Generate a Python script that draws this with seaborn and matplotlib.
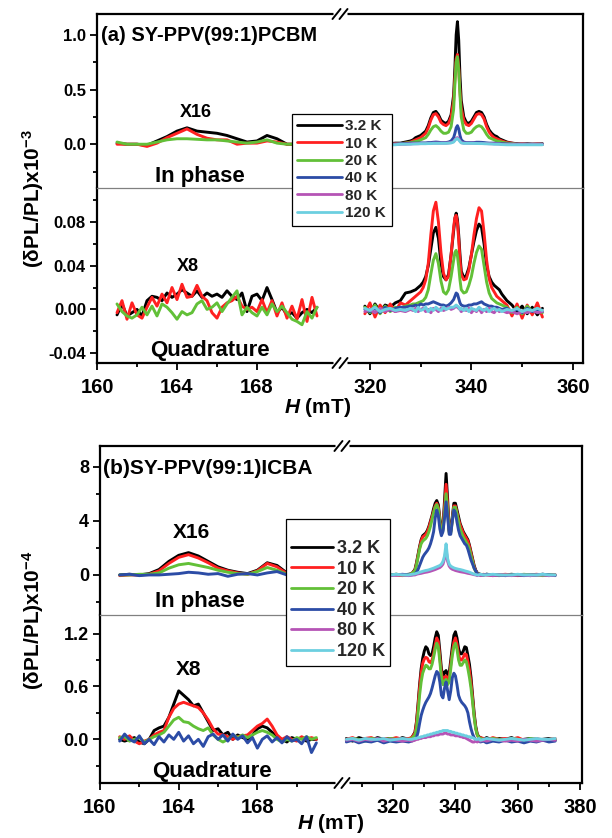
import numpy as np
import pandas as pd
import matplotlib
matplotlib.use("Agg")
import matplotlib.pyplot as plt
import seaborn as sns
from matplotlib.lines import Line2D

# ---------------- data ----------------
TEMPS = ["3.2 K", "10 K", "20 K", "40 K", "80 K", "120 K"]
COLORS = ["#000000", "#ff2020", "#62c038", "#2c4ca6", "#b554b5", "#6ccfe0"]

# field grids (mT)
XL_IP = [161.0, 161.5, 162.0, 162.5, 163.0, 163.5, 164.0, 164.5, 165.0, 165.5, 166.0,
         166.5, 167.0, 167.5, 168.0, 168.5, 169.0, 169.5, 170.0, 170.5, 171.0]
XL_Q = [161.0, 161.25, 161.5, 161.75, 162.0, 162.25, 162.5, 162.75, 163.0, 163.25,
        163.5, 163.75, 164.0, 164.25, 164.5, 164.75, 165.0, 165.25, 165.5, 165.75,
        166.0, 166.25, 166.5, 166.75, 167.0, 167.25, 167.5, 167.75, 168.0, 168.25,
        168.5, 168.75, 169.0, 169.25, 169.5, 169.75, 170.0, 170.25, 170.5, 170.75, 171.0]
XA_R = [319, 320, 321, 322, 323, 324, 325, 326, 327, 328,
        328.5, 329, 329.5, 330, 330.5, 331, 331.5, 332, 332.5, 333,
        333.5, 334, 334.5, 335, 335.5, 336, 336.5, 336.75, 337, 337.25,
        337.5, 337.75, 338, 338.5, 339, 339.5, 340, 340.5, 341, 341.5,
        342, 342.5, 343, 343.5, 344, 344.5, 345, 345.5, 346, 347,
        348, 349, 350, 351, 352, 353, 354]
XB_R = [305, 307, 309, 311, 313, 315, 317, 319, 321, 323,
        325, 326, 327, 327.5, 328, 328.5, 329, 329.5, 330, 330.5,
        331, 331.5, 332, 332.5, 333, 333.5, 334, 334.5, 335, 335.5,
        336, 336.5, 337, 337.5, 338, 338.5, 339, 339.5, 340, 340.5,
        341, 341.5, 342, 342.5, 343, 343.5, 344, 344.5, 345, 345.5,
        346, 346.5, 347, 347.5, 348, 349, 350, 352, 354, 356,
        358, 360, 362, 364, 366, 368, 370, 372]

# ---- panel (a): in phase, low field (x16) ----
A_IP_L_32 = [0.01, 0.0, 0.0, -0.01, 0.03, 0.07, 0.12, 0.15, 0.12, 0.11, 0.10, 0.08, 0.05, 0.02, 0.03, 0.08, 0.05, 0.0, 0.0, 0.0, 0.0]
A_IP_L_10 = [0.0, 0.0, 0.0, -0.02, 0.01, 0.06, 0.10, 0.14, 0.09, 0.055, 0.04, 0.04, 0.0, 0.01, 0.01, 0.03, 0.02, 0.0, 0.0, 0.0, 0.0]
A_IP_L_20 = [0.02, 0.0, 0.0, 0.0, 0.02, 0.04, 0.05, 0.05, 0.045, 0.04, 0.04, 0.03, 0.02, 0.01, 0.02, 0.04, 0.01, 0.0, 0.0, 0.0, 0.0]

# ---- panel (a): in phase, high field ----
A_IP_R_32 = [0.0, 0.005, 0.0, 0.005, 0.0, 0.005, 0.01, 0.01, 0.02, 0.03,
             0.04, 0.06, 0.07, 0.08, 0.10, 0.12, 0.17, 0.24, 0.29, 0.30,
             0.27, 0.22, 0.20, 0.19, 0.21, 0.27, 0.45, 0.70, 1.00, 1.12,
             0.95, 0.62, 0.40, 0.25, 0.20, 0.19, 0.21, 0.25, 0.29, 0.30,
             0.29, 0.25, 0.18, 0.13, 0.10, 0.08, 0.07, 0.05, 0.04, 0.02,
             0.01, 0.005, 0.0, 0.005, 0.0, 0.0, 0.005]
A_IP_R_10 = [0.0, 0.0, 0.005, 0.0, 0.0, 0.0, 0.005, 0.005, 0.01, 0.02,
             0.03, 0.04, 0.05, 0.06, 0.08, 0.10, 0.15, 0.22, 0.27, 0.28,
             0.25, 0.20, 0.18, 0.17, 0.19, 0.25, 0.40, 0.60, 0.78, 0.82,
             0.70, 0.48, 0.33, 0.22, 0.18, 0.17, 0.19, 0.23, 0.27, 0.28,
             0.27, 0.23, 0.16, 0.11, 0.08, 0.06, 0.05, 0.04, 0.03, 0.015,
             0.01, 0.0, 0.005, 0.0, 0.0, 0.005, 0.0]
A_IP_R_20 = [0.0, 0.0, 0.0, 0.0, 0.0, 0.0, 0.0, 0.005, 0.01, 0.015,
             0.02, 0.025, 0.03, 0.04, 0.05, 0.06, 0.09, 0.13, 0.16, 0.17,
             0.15, 0.12, 0.10, 0.10, 0.11, 0.16, 0.32, 0.55, 0.75, 0.80,
             0.68, 0.45, 0.25, 0.13, 0.10, 0.10, 0.11, 0.14, 0.16, 0.17,
             0.16, 0.13, 0.09, 0.06, 0.05, 0.04, 0.03, 0.025, 0.02, 0.01,
             0.005, 0.0, 0.0, 0.0, 0.0, 0.0, 0.0]
A_IP_R_40 = [0.0, 0.0, 0.0, 0.0, 0.0, 0.0, 0.0, 0.005, 0.005, 0.01,
             0.01, 0.01, 0.01, 0.012, 0.012, 0.012, 0.015, 0.015, 0.018, 0.02,
             0.018, 0.015, 0.015, 0.015, 0.02, 0.03, 0.06, 0.10, 0.15, 0.17,
             0.14, 0.08, 0.04, 0.02, 0.015, 0.015, 0.015, 0.015, 0.018, 0.018,
             0.017, 0.015, 0.012, 0.01, 0.01, 0.01, 0.008, 0.006, 0.005, 0.003,
             0.0, 0.0, 0.0, 0.0, 0.0, 0.0, 0.0]
A_IP_R_80 = [0.0, 0.0, 0.0, 0.0, 0.0, 0.0, 0.0, 0.0, 0.0, 0.003,
             0.005, 0.005, 0.005, 0.006, 0.006, 0.006, 0.008, 0.008, 0.01, 0.01,
             0.01, 0.01, 0.01, 0.01, 0.012, 0.015, 0.025, 0.04, 0.055, 0.06,
             0.05, 0.03, 0.015, 0.01, 0.01, 0.01, 0.01, 0.01, 0.008, 0.008,
             0.008, 0.006, 0.006, 0.005, 0.005, 0.004, 0.003, 0.002, 0.0, 0.0,
             0.0, 0.0, 0.0, 0.0, 0.0, 0.0, 0.0]
A_IP_R_120 = [-0.005, -0.005, -0.005, -0.005, -0.005, -0.005, -0.005, 0.0, 0.0, 0.0,
              0.002, 0.003, 0.004, 0.005, 0.005, 0.005, 0.006, 0.006, 0.008, 0.008,
              0.008, 0.008, 0.008, 0.008, 0.01, 0.012, 0.02, 0.035, 0.048, 0.052,
              0.04, 0.025, 0.012, 0.008, 0.008, 0.008, 0.008, 0.007, 0.007, 0.006,
              0.006, 0.005, 0.004, 0.003, 0.002, 0.0, 0.0, 0.0, -0.003, -0.005,
              -0.005, -0.005, -0.005, -0.005, -0.005, -0.005, -0.005]

# ---- panel (a): quadrature, low field (x8) ----
A_Q_L_32 = [-0.005, 0.005, -0.006, -0.003, 0.0, -0.006, 0.008, 0.012, 0.011, 0.008,
            0.015, 0.011, 0.014, 0.018, 0.015, 0.012, 0.017, 0.011, 0.015, 0.012,
            0.014, 0.011, 0.017, 0.012, 0.009, 0.015, -0.002, 0.012, 0.014, 0.008,
            0.020, 0.009, -0.003, 0.002, -0.005, -0.003, -0.008, -0.003, 0.0, -0.003, 0.002]
A_Q_L_10 = [-0.003, 0.008, -0.009, 0.006, -0.005, -0.008, 0.002, 0.011, 0.003, 0.014,
            0.006, 0.020, 0.009, 0.023, 0.011, 0.012, 0.022, 0.012, 0.008, -0.003,
            -0.008, 0.002, 0.006, 0.008, 0.012, 0.003, 0.0, 0.002, -0.002, 0.009,
            -0.003, 0.008, -0.006, 0.006, -0.008, 0.003, -0.009, 0.009, -0.011, 0.011, -0.006]
A_Q_L_20 = [0.005, -0.002, -0.006, -0.008, -0.005, 0.002, -0.005, 0.003, -0.006, 0.005,
            0.002, -0.003, -0.009, -0.002, -0.005, -0.003, 0.005, 0.008, 0.0, 0.002,
            0.006, -0.002, 0.005, 0.011, 0.017, -0.005, 0.002, -0.003, -0.006, 0.002,
            -0.005, 0.005, -0.002, 0.003, -0.003, -0.009, -0.011, -0.014, -0.002, -0.008, 0.002]

# ---- panel (a): quadrature, high field ----
A_Q_R_32 = [0.003, -0.004, 0.005, -0.002, 0.004, 0.002, 0.006, 0.008, 0.015, 0.016,
            0.017, 0.018, 0.02, 0.022, 0.025, 0.03, 0.04, 0.055, 0.07, 0.075,
            0.065, 0.042, 0.03, 0.027, 0.032, 0.05, 0.072, 0.083, 0.088, 0.082,
            0.068, 0.05, 0.035, 0.029, 0.031, 0.038, 0.05, 0.062, 0.072, 0.078,
            0.075, 0.06, 0.04, 0.03, 0.025, 0.022, 0.02, 0.018, 0.014, 0.008,
            0.004, -0.002, 0.003, -0.004, 0.002, -0.005, 0.001]
A_Q_R_10 = [-0.004, 0.006, -0.007, 0.004, -0.003, 0.005, -0.002, 0.006, 0.004, 0.008,
            0.01, 0.012, 0.014, 0.016, 0.02, 0.027, 0.042, 0.068, 0.09, 0.098,
            0.08, 0.052, 0.033, 0.027, 0.03, 0.05, 0.075, 0.084, 0.086, 0.079,
            0.064, 0.045, 0.032, 0.027, 0.028, 0.036, 0.05, 0.068, 0.083, 0.093,
            0.09, 0.07, 0.045, 0.028, 0.02, 0.016, 0.012, 0.01, 0.008, 0.004,
            -0.006, 0.005, -0.008, 0.004, -0.005, 0.006, -0.007]
A_Q_R_20 = [0.002, -0.003, 0.004, -0.004, 0.003, -0.002, 0.002, 0.001, 0.003, 0.004,
            0.005, 0.005, 0.006, 0.007, 0.008, 0.011, 0.018, 0.032, 0.045, 0.051,
            0.042, 0.026, 0.016, 0.014, 0.018, 0.03, 0.045, 0.052, 0.054, 0.049,
            0.039, 0.027, 0.018, 0.015, 0.016, 0.022, 0.03, 0.042, 0.052, 0.058,
            0.055, 0.04, 0.025, 0.015, 0.01, 0.008, 0.006, 0.005, 0.004, 0.002,
            -0.003, 0.002, -0.004, 0.003, -0.002, 0.001, -0.003]
A_Q_R_40 = [0.0, -0.002, 0.001, -0.003, 0.002, -0.001, 0.001, 0.002, 0.002, 0.003,
            0.003, 0.004, 0.003, 0.005, 0.004, 0.005, 0.005, 0.006, 0.007, 0.006,
            0.005, 0.004, 0.004, 0.003, 0.004, 0.006, 0.009, 0.012, 0.015, 0.014,
            0.01, 0.006, 0.004, 0.003, 0.003, 0.004, 0.004, 0.005, 0.005, 0.006,
            0.007, 0.005, 0.004, 0.003, 0.003, 0.002, 0.002, 0.001, 0.0, 0.001,
            -0.002, 0.0, -0.003, 0.001, -0.002, 0.0, -0.002]
A_Q_R_80 = [-0.002, 0.0, -0.003, 0.001, -0.002, 0.0, -0.002, -0.001, -0.002, 0.0,
            -0.001, 0.001, -0.002, 0.0, 0.001, -0.002, 0.0, -0.003, 0.001, 0.0,
            -0.002, 0.001, -0.001, 0.0, 0.002, 0.0, 0.001, 0.002, 0.003, 0.002,
            0.001, 0.0, -0.002, 0.0, -0.001, 0.001, -0.003, 0.0, -0.002, 0.001,
            -0.003, 0.0, -0.002, 0.001, -0.002, -0.003, 0.0, -0.002, -0.001, -0.003,
            -0.002, -0.004, -0.002, -0.003, -0.001, -0.003, -0.002]
A_Q_R_120 = [0.001, -0.001, 0.002, -0.002, 0.0, 0.001, -0.001, 0.0, -0.001, 0.001,
             0.0, -0.002, 0.002, -0.001, 0.0, 0.002, -0.002, 0.001, -0.001, 0.002,
             0.0, -0.001, 0.002, 0.0, 0.001, 0.002, 0.002, 0.003, 0.004, 0.003,
             0.002, 0.0, 0.001, -0.001, 0.001, -0.002, 0.001, 0.0, -0.001, 0.002,
             0.0, -0.001, 0.001, -0.002, 0.0, 0.001, -0.001, 0.0, -0.002, 0.0,
             -0.001, 0.001, -0.002, 0.0, -0.001, 0.001, -0.001]

# ---- panel (b): in phase, low field (x16) ----
B_IP_L_32 = [0.0, 0.05, 0.0, 0.1, 0.4, 1.0, 1.45, 1.65, 1.4, 1.0, 0.6, 0.35, 0.2, 0.1, 0.35, 0.9, 0.7, 0.15, 0.05, 0.0, 0.0]
B_IP_L_10 = [-0.05, 0.0, 0.0, 0.05, 0.3, 0.85, 1.3, 1.5, 1.25, 0.9, 0.5, 0.3, 0.15, 0.05, 0.3, 0.85, 0.6, 0.1, 0.0, -0.05, 0.0]
B_IP_L_20 = [0.0, 0.0, 0.05, 0.05, 0.15, 0.5, 0.75, 0.85, 0.7, 0.55, 0.35, 0.2, 0.1, 0.05, 0.25, 0.55, 0.35, 0.05, 0.0, 0.0, 0.0]
B_IP_L_40 = [0.0, 0.05, -0.05, 0.0, 0.0, 0.05, 0.1, 0.2, 0.15, 0.05, 0.1, -0.1, 0.05, 0.1, 0.0, 0.15, 0.25, 0.0, -0.05, 0.05, 0.0]

# ---- panel (b): in phase, high field ----
B_IP_R_32 = [0.0, 0.05, -0.05, 0.05, 0.0, -0.05, 0.05, 0.0, 0.05, 0.0,
             0.05, 0.1, 0.4, 0.9, 1.5, 2.1, 2.6, 2.9, 3.0, 3.1,
             3.3, 3.6, 4.0, 4.4, 4.9, 5.3, 5.5, 5.2, 4.2, 3.2,
             3.5, 5.5, 7.5, 5.6, 3.3, 3.3, 4.3, 5.3, 5.3, 4.8,
             4.3, 3.8, 3.5, 3.2, 3.0, 2.8, 2.6, 2.2, 1.7, 1.2,
             0.7, 0.35, 0.15, 0.08, 0.05, 0.0, 0.05, 0.0, -0.05, 0.0,
             0.05, 0.0, 0.0, -0.05, 0.0, 0.05, 0.0, 0.0]
B_IP_R_10 = [-0.05, 0.0, 0.05, 0.0, -0.05, 0.0, 0.0, 0.05, 0.0, -0.05,
             0.0, 0.1, 0.35, 0.8, 1.4, 2.0, 2.5, 2.8, 2.9, 3.0,
             3.2, 3.5, 3.9, 4.3, 4.7, 5.1, 5.3, 5.0, 4.0, 3.1,
             3.4, 5.0, 6.7, 5.1, 3.2, 3.2, 4.1, 5.1, 5.1, 4.6,
             4.1, 3.7, 3.4, 3.1, 2.9, 2.7, 2.5, 2.1, 1.6, 1.1,
             0.6, 0.3, 0.12, 0.05, 0.0, 0.05, 0.0, -0.05, 0.0, 0.05,
             0.0, -0.05, 0.0, 0.0, 0.05, 0.0, -0.05, 0.0]
B_IP_R_20 = [0.0, -0.05, 0.0, 0.05, 0.0, 0.0, -0.05, 0.0, 0.05, 0.0,
             0.0, 0.1, 0.3, 0.7, 1.3, 1.9, 2.3, 2.5, 2.6, 2.7,
             2.9, 3.2, 3.6, 4.1, 4.6, 5.0, 5.2, 4.9, 3.9, 3.0,
             3.3, 4.6, 6.0, 4.7, 3.1, 3.1, 4.0, 5.0, 5.0, 4.5,
             3.9, 3.4, 3.1, 2.8, 2.6, 2.4, 2.2, 1.9, 1.4, 1.0,
             0.5, 0.25, 0.1, 0.05, 0.0, 0.0, 0.05, 0.0, 0.0, -0.05,
             0.0, 0.0, 0.05, 0.0, 0.0, -0.05, 0.0, 0.0]
B_IP_R_40 = [0.0, 0.0, -0.05, 0.0, 0.05, 0.0, -0.05, 0.0, 0.0, 0.05,
             0.0, 0.0, 0.05, 0.2, 0.4, 0.7, 1.0, 1.3, 1.5, 1.65,
             1.8, 2.0, 2.3, 2.7, 3.2, 4.2, 4.8, 4.4, 3.4, 2.9,
             3.2, 4.2, 5.4, 4.3, 3.0, 3.0, 4.0, 4.8, 4.6, 3.9,
             3.3, 2.9, 2.7, 2.5, 2.3, 2.2, 1.9, 1.5, 1.1, 0.8,
             0.5, 0.3, 0.1, 0.03, 0.0, 0.0, 0.05, 0.0, 0.0, -0.05,
             0.0, 0.0, -0.05, 0.0, 0.0, 0.05, 0.0, -0.05]
B_IP_R_80 = [0.0, -0.05, 0.0, 0.0, -0.05, 0.0, 0.0, -0.05, 0.0, 0.0,
             -0.05, 0.0, 0.0, 0.05, 0.08, 0.1, 0.12, 0.15, 0.18, 0.2,
             0.22, 0.25, 0.28, 0.32, 0.36, 0.4, 0.45, 0.5, 0.55, 0.65,
             0.8, 1.2, 1.9, 1.0, 0.65, 0.5, 0.42, 0.38, 0.33, 0.3,
             0.27, 0.24, 0.22, 0.2, 0.18, 0.15, 0.12, 0.1, 0.08, 0.05,
             0.02, 0.0, -0.05, 0.0, -0.05, 0.0, 0.0, -0.05, 0.0, 0.0,
             -0.05, 0.0, 0.0, -0.05, 0.0, 0.0, -0.05, 0.0]
B_IP_R_120 = [0.0, 0.05, 0.0, 0.0, 0.05, 0.0, 0.0, 0.0, 0.05, 0.0,
              0.0, 0.05, 0.08, 0.12, 0.15, 0.2, 0.23, 0.27, 0.3, 0.33,
              0.35, 0.38, 0.42, 0.46, 0.5, 0.55, 0.6, 0.65, 0.7, 0.8,
              1.0, 1.4, 2.3, 1.2, 0.8, 0.65, 0.58, 0.52, 0.48, 0.45,
              0.42, 0.4, 0.37, 0.34, 0.3, 0.27, 0.24, 0.2, 0.15, 0.1,
              0.06, 0.03, 0.0, 0.0, 0.05, 0.0, 0.0, 0.05, 0.0, 0.0,
              0.0, 0.05, 0.0, 0.0, 0.0, 0.05, 0.0, 0.0]

# ---- panel (b): quadrature, low field (x8) ----
B_Q_L_32 = [0.0, -0.02, 0.0, 0.02, -0.03, -0.05, 0.0, 0.1, 0.13, 0.15,
            0.25, 0.4, 0.55, 0.5, 0.45, 0.38, 0.4, 0.3, 0.2, 0.1,
            0.12, 0.05, 0.08, 0.0, 0.05, 0.02, 0.0, 0.05, 0.12, 0.15,
            0.13, 0.08, 0.02, 0.0, -0.03, 0.02, 0.0, 0.02, -0.02, 0.0, 0.0]
B_Q_L_10 = [0.03, 0.0, 0.04, -0.02, -0.05, -0.02, 0.0, 0.05, 0.08, 0.1,
            0.25, 0.35, 0.4, 0.42, 0.4, 0.38, 0.36, 0.3, 0.22, 0.12,
            0.06, 0.05, 0.03, 0.0, 0.03, 0.04, 0.05, 0.1, 0.15, 0.18,
            0.23, 0.15, 0.05, 0.0, 0.03, 0.0, -0.02, 0.03, 0.0, 0.02, 0.0]
B_Q_L_20 = [0.02, 0.03, -0.02, 0.0, 0.02, -0.03, 0.0, 0.03, 0.05, 0.08,
            0.15, 0.22, 0.25, 0.2, 0.19, 0.15, 0.12, 0.1, 0.13, 0.05,
            0.0, -0.03, 0.0, 0.05, 0.02, 0.05, 0.02, 0.05, 0.08, 0.1,
            0.08, 0.05, 0.0, -0.03, 0.0, -0.02, 0.02, 0.0, 0.03, 0.0, 0.02]
B_Q_L_40 = [-0.02, 0.06, 0.0, -0.03, 0.04, -0.05, 0.0, -0.06, 0.03, -0.03,
            0.05, 0.0, 0.08, -0.02, 0.04, -0.05, 0.0, -0.08, 0.03, 0.06,
            0.0, 0.05, -0.02, 0.06, 0.0, 0.04, -0.04, 0.02, -0.1, 0.0,
            0.04, -0.03, 0.02, -0.04, 0.03, -0.02, 0.0, -0.05, 0.03, -0.15, -0.04]

# ---- panel (b): quadrature, high field ----
B_Q_R_32 = [0.01, -0.02, 0.02, 0.0, -0.01, 0.02, 0.0, 0.01, -0.01, 0.02,
            0.0, 0.02, 0.08, 0.2, 0.4, 0.62, 0.8, 0.92, 1.0, 1.05,
            1.03, 0.97, 0.95, 0.97, 1.05, 1.15, 1.22, 1.18, 1.0, 0.8,
            0.72, 0.76, 0.78, 0.72, 0.75, 0.9, 1.05, 1.18, 1.22, 1.15,
            1.03, 0.97, 0.97, 1.0, 1.05, 1.04, 0.95, 0.85, 0.7, 0.5,
            0.3, 0.15, 0.06, 0.03, 0.02, 0.0, 0.02, -0.01, 0.01, 0.0,
            0.02, -0.01, 0.0, 0.01, -0.01, 0.0, 0.01, -0.01]
B_Q_R_10 = [0.0, 0.02, -0.01, 0.01, 0.02, -0.01, 0.01, 0.0, 0.02, 0.0,
            0.01, 0.02, 0.07, 0.18, 0.37, 0.58, 0.75, 0.86, 0.91, 0.93,
            0.92, 0.88, 0.87, 0.9, 0.97, 1.07, 1.15, 1.11, 0.93, 0.75,
            0.67, 0.7, 0.72, 0.67, 0.7, 0.85, 0.99, 1.1, 1.15, 1.08,
            0.96, 0.9, 0.9, 0.93, 0.97, 0.96, 0.88, 0.78, 0.64, 0.46,
            0.27, 0.13, 0.05, 0.02, 0.02, 0.01, -0.01, 0.02, 0.0, 0.01,
            0.0, 0.02, -0.01, 0.0, 0.01, -0.01, 0.0, 0.01]
B_Q_R_20 = [-0.01, 0.01, 0.0, -0.02, 0.01, 0.0, -0.01, 0.01, 0.0, -0.01,
            0.0, 0.01, 0.05, 0.12, 0.3, 0.5, 0.65, 0.75, 0.8, 0.84,
            0.83, 0.8, 0.8, 0.85, 0.93, 1.02, 1.09, 1.05, 0.88, 0.7,
            0.62, 0.66, 0.68, 0.62, 0.65, 0.8, 0.95, 1.05, 1.09, 1.02,
            0.9, 0.84, 0.84, 0.87, 0.9, 0.88, 0.8, 0.7, 0.58, 0.42,
            0.25, 0.12, 0.05, 0.02, 0.01, 0.0, -0.01, 0.01, 0.0, -0.01,
            0.01, 0.0, -0.01, 0.01, 0.0, -0.01, 0.0, 0.0]
B_Q_R_40 = [-0.03, -0.01, -0.04, -0.02, -0.03, -0.01, -0.04, -0.02, -0.03, -0.02,
            -0.03, -0.02, 0.0, 0.02, 0.08, 0.18, 0.27, 0.33, 0.38, 0.42,
            0.45, 0.48, 0.52, 0.58, 0.65, 0.72, 0.77, 0.75, 0.65, 0.5,
            0.47, 0.58, 0.65, 0.55, 0.45, 0.55, 0.7, 0.75, 0.72, 0.62,
            0.5, 0.45, 0.42, 0.4, 0.38, 0.35, 0.3, 0.2, 0.12, 0.06,
            0.02, 0.0, -0.01, -0.02, -0.03, -0.02, -0.04, -0.02, -0.03, -0.01,
            -0.03, -0.02, -0.04, -0.02, -0.03, -0.01, -0.03, -0.02]
B_Q_R_80 = [-0.01, 0.0, -0.02, 0.0, -0.01, 0.01, -0.02, 0.0, -0.01, -0.02,
            -0.01, -0.02, -0.01, 0.0, 0.0, 0.01, 0.01, 0.02, 0.02, 0.02,
            0.03, 0.03, 0.03, 0.04, 0.04, 0.05, 0.05, 0.05, 0.06, 0.06,
            0.06, 0.07, 0.07, 0.06, 0.06, 0.05, 0.05, 0.05, 0.04, 0.04,
            0.04, 0.03, 0.03, 0.02, 0.02, 0.01, 0.0, -0.01, -0.02, -0.03,
            -0.03, -0.02, -0.03, -0.02, -0.02, -0.01, -0.02, 0.0, -0.01, -0.02,
            -0.01, -0.02, 0.0, -0.01, -0.02, -0.01, 0.0, -0.01]
B_Q_R_120 = [0.0, 0.01, -0.01, 0.01, 0.0, 0.0, 0.01, -0.01, 0.0, 0.01,
             0.0, 0.0, 0.01, 0.01, 0.02, 0.02, 0.03, 0.03, 0.04, 0.04,
             0.05, 0.05, 0.06, 0.06, 0.07, 0.07, 0.08, 0.08, 0.09, 0.09,
             0.1, 0.1, 0.1, 0.1, 0.09, 0.09, 0.08, 0.08, 0.07, 0.07,
             0.06, 0.06, 0.05, 0.05, 0.04, 0.04, 0.03, 0.03, 0.02, 0.02,
             0.01, 0.0, 0.0, 0.01, -0.01, 0.0, 0.01, 0.0, -0.01, 0.0,
             0.01, 0.0, -0.01, 0.0, 0.01, 0.0, 0.0, 0.01]

# ---------------- style ----------------
sns.set_theme(style="ticks")
plt.rcParams["font.family"] = ["Liberation Sans", "DejaVu Sans"]
plt.rcParams["font.weight"] = "bold"
plt.rcParams["mathtext.fontset"] = "custom"
plt.rcParams["mathtext.rm"] = "Liberation Sans:bold"
plt.rcParams["mathtext.bf"] = "Liberation Sans:bold"
plt.rcParams["mathtext.it"] = "Liberation Sans:italic:bold"
plt.rcParams["mathtext.default"] = "rm"

W, H = 612, 838
fig = plt.figure(figsize=(W / 100, H / 100), dpi=100)
fig.patch.set_facecolor("white")


def add_ax(l, t, r, b):
    ax = fig.add_axes([l / W, 1 - b / H, (r - l) / W, (b - t) / H])
    ax.set_facecolor("none")
    return ax


def broken(l0, b1, b2, r1, frac):
    xp = np.array([l0, b1, b2, r1], float)
    fp = np.array([0.0, frac, frac + 1e-6, 1.0])
    sl = frac / (b1 - l0)
    sr = (1 - frac) / (r1 - b2)

    def fwd(x):
        x = np.asarray(x, float)
        y = np.interp(x, xp, fp)
        y = np.where(x < l0, (x - l0) * sl, y)
        y = np.where(x > r1, 1 + (x - r1) * sr, y)
        return y

    def inv(y):
        y = np.asarray(y, float)
        x = np.interp(y, fp, xp)
        x = np.where(y < 0, l0 + y / sl, x)
        x = np.where(y > 1, r1 + (y - 1) / sr, x)
        return x

    return fwd, inv


def draw(ax, x, series, lw=2.1):
    n = len(series)
    df = pd.concat([pd.DataFrame({"H": x, "v": ys, "T": t})
                    for t, ys in zip(TEMPS[:n], series)], ignore_index=True)
    sns.lineplot(data=df, x="H", y="v", hue="T", hue_order=TEMPS[:n],
                 palette=COLORS[:n], estimator=None, sort=False, lw=lw,
                 legend=False, ax=ax)


def style(ax, scale, xlim, ylim, yt, ytl, ymin, ysize, bottom, xt=None, xtl=None, xmin=None):
    ax.set_xscale("function", functions=scale)
    ax.set_xlim(*xlim)
    ax.set_ylim(*ylim)
    ax.set_yticks(yt, labels=ytl)
    ax.set_yticks(ymin, minor=True)
    ax.set_xlabel("")
    ax.set_ylabel("")
    for s in ax.spines.values():
        s.set_color("black")
        s.set_linewidth(1.6)
    ax.tick_params(axis="y", which="both", direction="out", left=True, right=False,
                   width=1.3, labelsize=ysize, pad=3, colors="black")
    ax.tick_params(axis="y", which="major", length=5)
    ax.tick_params(axis="y", which="minor", length=3)
    if bottom:
        ax.set_xticks(xt, labels=xtl)
        ax.set_xticks(xmin, minor=True)
        ax.tick_params(axis="x", which="both", direction="out", bottom=True, top=False,
                       width=1.3, labelsize=14.5, pad=5.5, colors="black")
        ax.tick_params(axis="x", which="major", length=5)
        ax.tick_params(axis="x", which="minor", length=3)
        ax.spines["top"].set_color("#808080")
        ax.spines["top"].set_linewidth(0.9)
    else:
        ax.set_xticks([])
        ax.set_xticks([], minor=True)
        ax.tick_params(axis="x", which="both", bottom=False, top=False, labelbottom=False)
        ax.spines["bottom"].set_visible(False)
    for lab in ax.get_xticklabels() + ax.get_yticklabels():
        lab.set_fontweight("bold")


def break_mark(ax, frac, yb, wpx, hpx):
    tr = ax.transAxes
    ax.plot([frac - 7 / wpx, frac + 7 / wpx], [yb, yb], color="white", lw=3.5,
            transform=tr, clip_on=False, zorder=20, solid_capstyle="butt")
    for dx in (-3.5, 3.5):
        ax.plot([frac + (dx - 4) / wpx, frac + (dx + 4) / wpx],
                [yb - 5 / hpx, yb + 5 / hpx], color="black", lw=1.4,
                transform=tr, clip_on=False, zorder=21)


def ftext(x, y, s, **kw):
    kw.setdefault("fontweight", "bold")
    kw.setdefault("color", "black")
    fig.text(x / W, 1 - y / H, s, **kw)


# ---------------- panel (a) ----------------
scaleA = broken(160, 172.15, 314.1, 362.0, 0.5)
axA1 = add_ax(97, 14, 583, 188)
axA2 = add_ax(97, 188, 583, 363)
draw(axA1, XL_IP, [A_IP_L_32, A_IP_L_10, A_IP_L_20])
draw(axA1, XA_R, [A_IP_R_32, A_IP_R_10, A_IP_R_20, A_IP_R_40, A_IP_R_80, A_IP_R_120])
draw(axA2, XL_Q, [A_Q_L_32, A_Q_L_10, A_Q_L_20])
draw(axA2, XA_R, [A_Q_R_32, A_Q_R_10, A_Q_R_20, A_Q_R_40, A_Q_R_80, A_Q_R_120])
style(axA1, scaleA, (160, 362), (-0.40, 1.19), [0.0, 0.5, 1.0], ["0.0", "0.5", "1.0"],
      [-0.25, 0.25, 0.75], 12, False)
style(axA2, scaleA, (160, 362), (-0.049, 0.111), [-0.04, 0.0, 0.04, 0.08],
      ["-0.04", "0.00", "0.04", "0.08"], [-0.02, 0.02, 0.06, 0.10], 12, True,
      [160, 164, 168, 320, 340, 360], ["160", "164", "168", "320", "340", "360"],
      [162, 166, 170, 330, 350])
break_mark(axA1, 0.5, 1.0, 486, 174)
break_mark(axA2, 0.5, 0.0, 486, 175)

# ---------------- panel (b) ----------------
scaleB = broken(160, 172.3, 303.6, 380.6, 0.502)
axB1 = add_ax(100, 446, 582, 615)
axB2 = add_ax(100, 615, 582, 783)
draw(axB1, XL_IP, [B_IP_L_32, B_IP_L_10, B_IP_L_20, B_IP_L_40])
draw(axB1, XB_R, [B_IP_R_32, B_IP_R_10, B_IP_R_20, B_IP_R_40, B_IP_R_80, B_IP_R_120])
draw(axB2, XL_Q, [B_Q_L_32, B_Q_L_10, B_Q_L_20, B_Q_L_40])
draw(axB2, XB_R, [B_Q_R_32, B_Q_R_10, B_Q_R_20, B_Q_R_40, B_Q_R_80, B_Q_R_120])
style(axB1, scaleB, (160, 380.6), (-2.96, 9.53), [0, 4, 8], ["0", "4", "8"],
      [-2, 2, 6], 13, False)
style(axB2, scaleB, (160, 380.6), (-0.495, 1.41), [0.0, 0.6, 1.2], ["0.0", "0.6", "1.2"],
      [-0.3, 0.3, 0.9], 13, True,
      [160, 164, 168, 320, 340, 360, 380], ["160", "164", "168", "320", "340", "360", "380"],
      [162, 166, 170, 310, 330, 350, 370])
break_mark(axB1, 0.502, 1.0, 482, 169)
break_mark(axB2, 0.502, 0.0, 482, 168)

# ---------------- legends ----------------
handles = [Line2D([], [], color=c, lw=2.0) for c in COLORS]
fig.legend(handles, TEMPS, loc="upper left", bbox_to_anchor=(292 / W, 1 - 114 / H),
           bbox_transform=fig.transFigure, borderaxespad=0, frameon=True, fancybox=False,
           edgecolor="black", facecolor="white", framealpha=1, prop={"weight": "bold", "size": 11},
           handlelength=2.9, handletextpad=0.25, labelspacing=0.22, borderpad=0.35
           ).get_frame().set_linewidth(0.9)
fig.legend(handles, TEMPS, loc="upper left", bbox_to_anchor=(286 / W, 1 - 519 / H),
           bbox_transform=fig.transFigure, borderaxespad=0, frameon=True, fancybox=False,
           edgecolor="black", facecolor="white", framealpha=1, prop={"weight": "bold", "size": 13},
           handlelength=2.3, handletextpad=0.2, labelspacing=0.2, borderpad=0.3,
           title=" ", title_fontsize=9).get_frame().set_linewidth(0.9)

# ---------------- texts ----------------
ftext(101, 41, "(a) SY-PPV(99:1)PCBM", fontsize=14.5, ha="left", va="baseline")
ftext(196, 117, "X16", fontsize=13, ha="center", va="baseline")
ftext(200, 182, "In phase", fontsize=16, ha="center", va="baseline")
ftext(188, 271, "X8", fontsize=13, ha="center", va="baseline")
ftext(210, 356, "Quadrature", fontsize=16, ha="center", va="baseline")
ftext(318, 413, r"$\mathit{H}$ (mT)", fontsize=15, ha="center", va="baseline")
ftext(33, 199, r"(δPL/PL)x10$^{-3}$", fontsize=15, rotation=90, ha="center", va="center")

ftext(103, 474, "(b)SY-PPV(99:1)ICBA", fontsize=15, ha="left", va="baseline")
ftext(191, 538, "X16", fontsize=15, ha="center", va="baseline")
ftext(200, 607, "In phase", fontsize=16, ha="center", va="baseline")
ftext(189, 675, "X8", fontsize=15, ha="center", va="baseline")
ftext(212, 777, "Quadrature", fontsize=16, ha="center", va="baseline")
ftext(331, 829, r"$\mathit{H}$ (mT)", fontsize=15, ha="center", va="baseline")
ftext(33, 620, r"(δPL/PL)x10$^{-4}$", fontsize=15, rotation=90, ha="center", va="center")

fig.savefig("out.png", dpi=100, facecolor="white")
